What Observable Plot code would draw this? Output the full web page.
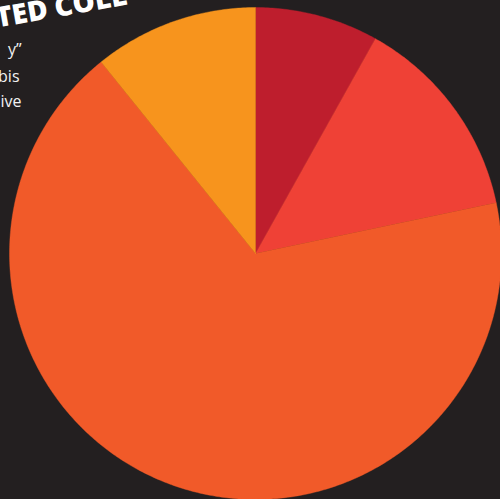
<!DOCTYPE html>
<html>
<head>
<meta charset="utf-8">
<script src="https://cdn.jsdelivr.net/npm/d3@7"></script>
<script src="https://cdn.jsdelivr.net/npm/@observablehq/plot@0.6"></script>
<style>
  html, body { margin: 0; padding: 0; background: #231f20; overflow: hidden; }
  #chart svg { display: block; }
</style>
</head>
<body>
<div id="chart"></div>
<script>
// Data
const categories = ["Segment 1", "Segment 2", "Segment 3", "Segment 4"];
const shares = [8.1, 13.6, 67.5, 10.8];
const colors = ["#be1e2d", "#ef4136", "#f15a29", "#f7941d"];
const titleText = "TED COLL";
const sideLines = ["y”", "bis", "ive"];
const sideRight = [21, 19, 21];
const sideBase = [54, 81, 106];

// Build slice polygons from the shares (angles from 12 o'clock, clockwise)
const arcs = d3.pie().sort(null).value(d => d)(shares);
const pts = [];
arcs.forEach((a, i) => {
  const cat = categories[i];
  pts.push({cat, x: 0, y: 0});
  const n = Math.max(8, Math.ceil((a.endAngle - a.startAngle) / 0.01));
  for (let k = 0; k <= n; k++) {
    const t = a.startAngle + (a.endAngle - a.startAngle) * k / n;
    pts.push({cat, x: Math.sin(t), y: Math.cos(t)});
  }
  pts.push({cat, x: 0, y: 0});
});

const R = 246;
const chart = Plot.plot({
  width: 500,
  height: 499,
  margin: 0,
  x: {domain: [-1 - 9 / R, 1 - 1 / R], axis: null},
  y: {domain: [-1, 1 + 7 / R], axis: null},
  color: {domain: categories, range: colors},
  style: {background: "#231f20", overflow: "hidden"},
  marks: [
    Plot.line(pts, {x: "x", y: "y", z: "cat", fill: "cat", stroke: "cat", strokeWidth: 0.4}),
    Plot.text([titleText], {
      text: d => d, frameAnchor: "top-left", dx: -3, dy: 27, rotate: -10,
      textAnchor: "start", lineAnchor: "bottom",
      fontSize: 28, fontWeight: 800, fontFamily: "Open Sans", fill: "#ffffff"
    }),
    ...sideLines.map((s, i) => Plot.text([s], {
      text: d => d, frameAnchor: "top-left", dx: sideRight[i], dy: sideBase[i],
      textAnchor: "end", lineAnchor: "bottom",
      fontSize: 16, fontWeight: 400, fontFamily: "Open Sans", fill: "#f2f2f2"
    }))
  ]
});
document.getElementById("chart").appendChild(chart);
</script>
</body>
</html>
